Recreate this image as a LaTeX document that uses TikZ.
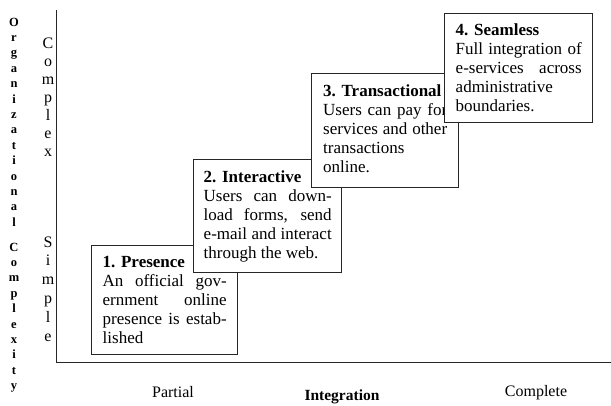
\documentclass[tikz,border=0pt]{standalone}
\usepackage{fontspec}
\setmainfont{Liberation Serif}
\definecolor{linec}{HTML}{262626}
\tikzset{
  stage/.style={draw=linec, line width=1.4pt, fill=white, anchor=north west, inner ysep=0pt, font=\fontsize{17}{19}\selectfont},
  vlet/.style={anchor=base, inner sep=0pt, font=\bfseries\fontsize{12.5}{15}\selectfont},
  clet/.style={anchor=base, inner sep=0pt, font=\fontsize{16}{18}\selectfont},
  xlab/.style={anchor=base, inner sep=0pt, font=\fontsize{16}{18}\selectfont},
  axis/.style={draw=linec, line width=1.5pt},
}
\begin{document}
\begin{tikzpicture}[x=1pt,y=-1pt]
\useasboundingbox (0,0) rectangle (611,405);
% axes
\coordinate (ytop) at (56.5,10);
\coordinate (orig) at (56.5,362.5);
\coordinate (xend) at (611,362.5);
\draw[axis] (ytop) -- (orig) -- (xend);
% stage boxes
\node[stage, inner xsep=11pt] (b1) at (91,245) {\vbox{\baselineskip=19pt\lineskiplimit=-50pt
\hbox{\rule{0pt}{22pt}\textbf{1. Presence}}
\hbox to 124pt{An official gov-}
\hbox to 124pt{ernment online}
\hbox to 124pt{presence is estab-}
\hbox{\rule[-11pt]{0pt}{11pt}lished}}};
\node[stage, inner xsep=10pt] (b2) at (193,159) {\vbox{\baselineskip=19pt\lineskiplimit=-50pt
\hbox{\rule{0pt}{23pt}\textbf{2. Interactive}}
\hbox to 128pt{Users can down-}
\hbox to 128pt{load forms, send}
\hbox to 128pt{e-mail and interact}
\hbox{\rule[-14pt]{0pt}{14pt}through the web.}}};
\node[stage, inner xsep=11.5pt] (b3) at (311,73) {\vbox{\baselineskip=19pt\lineskiplimit=-50pt
\hbox{\rule{0pt}{23pt}\textbf{3. Transactional}}
\hbox to 124pt{Users can pay for}
\hbox to 124pt{services and other}
\hbox{transactions}
\hbox{\rule[-15pt]{0pt}{15pt}online.}}};
\node[stage, inner xsep=11pt] (b4) at (444,13) {\vbox{\baselineskip=19pt\lineskiplimit=-50pt
\hbox{\rule{0pt}{22pt}\textbf{4. Seamless}}
\hbox to 126pt{Full integration of}
\hbox to 126pt{e-services across}
\hbox{administrative}
\hbox{\rule[-11pt]{0pt}{11pt}boundaries.}}};
% vertical axis labels
\foreach \ch [count=\i from 0] in {O,r,g,a,n,i,z,a,t,i,o,n,a,l}
  \node[vlet] (org\i) at (14,26+15.4*\i) {\ch};
\foreach \ch [count=\i from 0] in {C,o,m,p,l,e,x,i,t,y}
  \node[vlet] (cpx\i) at (14,251+15.4*\i) {\ch};
\foreach \ch [count=\i from 0] in {C,o,m,p,l,e,x}
  \node[clet] (cmp\i) at (48,48+18*\i) {\ch};
\foreach \ch [count=\i from 0] in {S,i,m,p,l,e}
  \node[clet] (smp\i) at (48,247+18.8*\i) {\ch};
% horizontal axis labels
\node[xlab] (partial) at (173,397) {Partial};
\node[xlab, font=\bfseries\fontsize{15.5}{18}\selectfont] (integ) at (342,400) {Integration};
\node[xlab] (complete) at (536,396) {Complete};
\end{tikzpicture}
\end{document}
